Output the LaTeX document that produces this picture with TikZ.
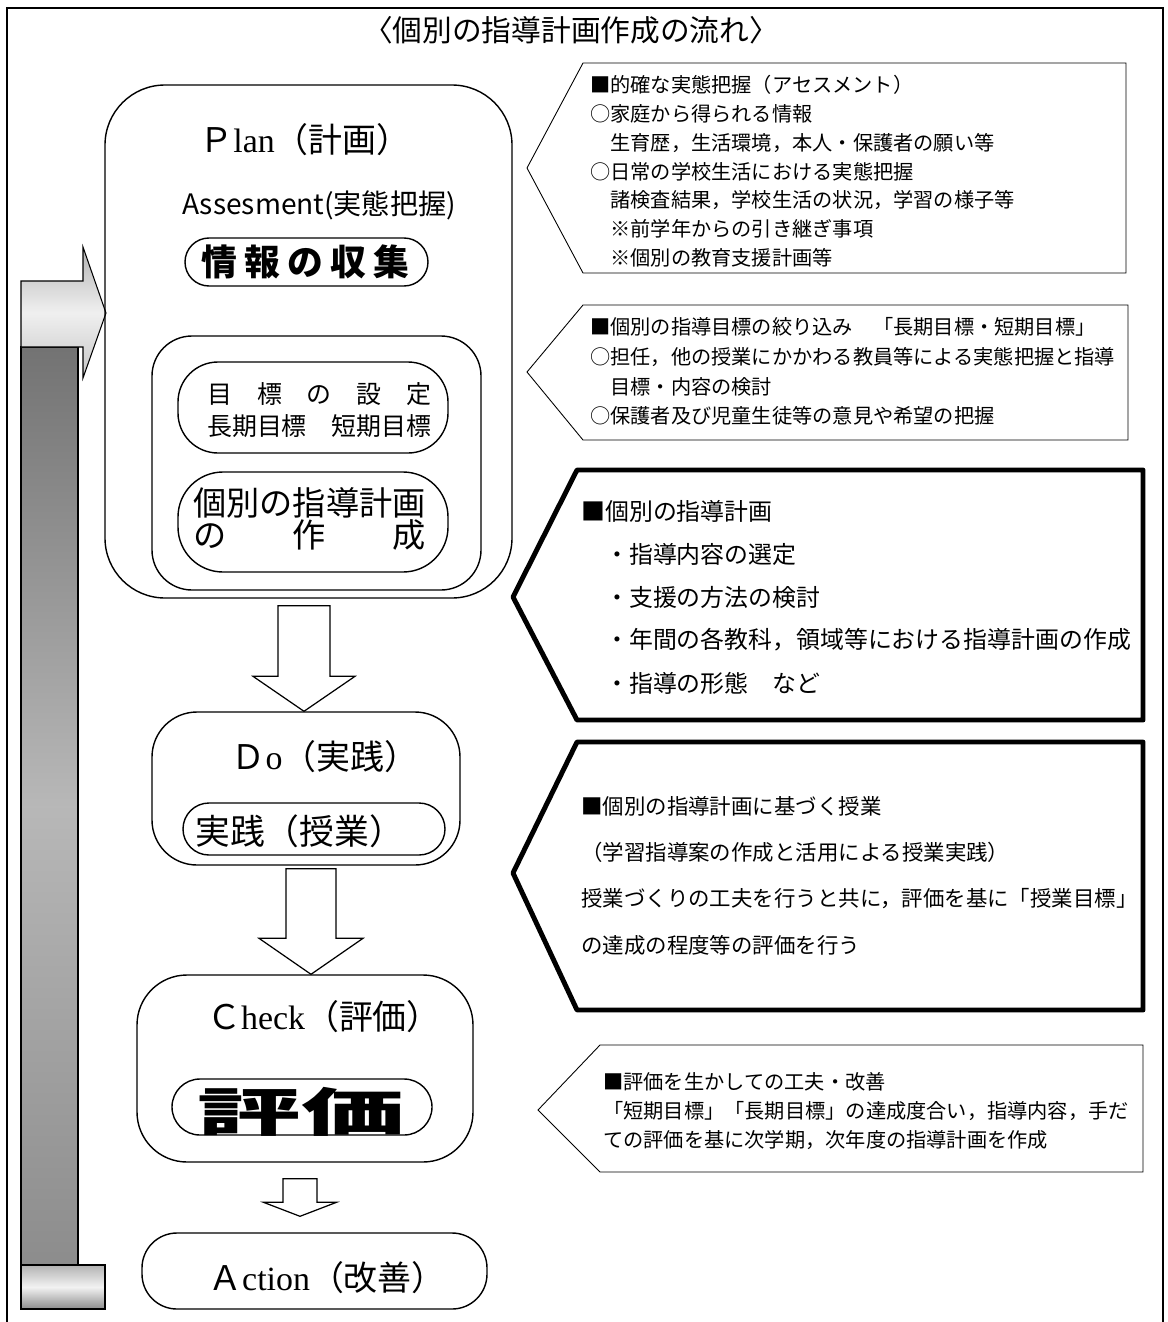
\documentclass[tikz,border=0pt]{standalone}
\usepackage{fontspec}
\usepackage{graphicx}
\setmainfont{Noto Sans CJK JP}
\newfontfamily\romanlat{Liberation Serif}
\usetikzlibrary{calc, fit}

% block arrow pointing down: start, tip, half shaft, half head, head length
\newcommand{\fatdown}[5]{%
  \draw[fatarrow] ($(#1)+(-#3,0)$) -- ($(#2)+(-#3,-#5)$) -- ($(#2)+(-#4,-#5)$) -- (#2)
    -- ($(#2)+(#4,-#5)$) -- ($(#2)+(#3,-#5)$) -- ($(#1)+(#3,0)$) -- cycle;}

\begin{document}
\begin{tikzpicture}[
        x=0.02cm, y=-0.02cm,
        stage/.style={draw, line width=0.8pt, rounded corners=#1, inner sep=0pt},
        pill/.style={draw, line width=0.8pt, rounded corners=#1, inner sep=0pt},
        stagetext/.style={inner sep=0pt, font=\fontsize{19.3}{23}\selectfont},
        goaltext/.style={inner sep=0pt, font=\fontsize{14.2}{17}\selectfont},
        maketext/.style={inner sep=0pt, font=\fontsize{18.9}{22}\selectfont},
        thincall/.style={draw, line width=0.5pt},
        thickcall/.style={draw, line width=2.8pt, line join=round},
        calltxt/.style={anchor=west, inner sep=0pt},
        fatarrow/.style={draw, line width=0.7pt, fill=white},
        barshade/.style={draw, line width=0.6pt, top color=black!55, bottom color=black!45, middle color=black!28},
        headshade/.style={draw, line width=0.6pt, top color=black!30, bottom color=black!22, middle color=black!6},
        footshade/.style={draw, line width=0.6pt, top color=black!30, bottom color=black!45, middle color=black!5}
    ]
    \useasboundingbox (0,0) rectangle (1167,1322);

    % Frame and title
    \draw[line width=0.8pt] (7,1322) -- (7,8) -- (1163,8) -- (1163,1322);
    \node[inner sep=0pt, font=\fontsize{16.9}{20}\selectfont] (title) at (571,30) {〈個別の指導計画作成の流れ〉};

    % Return arrow
    \draw[barshade] (21,347) rectangle (78,1265);
    \draw[footshade] (21,1265) rectangle (105,1309);
    \draw[headshade] (21,281) -- (83,281) -- (83,247) -- (106,313) -- (83,378) -- (83,347) -- (21,347) -- cycle;

    % Plan
    \node[stage=1.2cm, fit={(105,85) (512,598)}] (plan) {};
    \node[stagetext] (plantxt) at (305,140) {Ｐ{\romanlat lan}（計画）};
    \node[inner sep=0pt, font=\fontsize{16}{19}\selectfont] (assess) at (319,205) {Assesment(実態把握)};
    \node[pill=0.48cm, fit={(185,238) (428,286)}] (info) {};
    \node[inner sep=0pt, font=\bfseries\fontsize{20.4}{24}\selectfont] (infotxt) at (305,262) {情\hspace{0.2em}報\hspace{0.2em}の\hspace{0.2em}収\hspace{0.2em}集};
    \node[stage=0.8cm, fit={(152,336) (481,590)}] (inner) {};
    \node[pill=0.8cm, fit={(178,362) (448,453)}] (goal) {};
    \node[goaltext, anchor=east] (goal1) at (432,394) {目　標　の　設　定};
    \node[goaltext, anchor=east] (goal2) at (432,426) {長期目標　短期目標};
    \node[pill=0.9cm, fit={(178,472) (448,572)}] (make) {};
    \node[maketext, anchor=west] (make1) at (193,503) {個別の指導計画};
    \node[maketext, anchor=west] (make2) at (193,535) {の　　作　　成};

    % Do
    \node[stage=0.9cm, fit={(152,712) (460,865)}] (do) {};
    \node[stagetext] (dotxt) at (325,757) {Ｄ{\romanlat o}（実践）};
    \node[pill=0.52cm, fit={(183,803) (445,855)}] (lesson) {};
    \node[inner sep=0pt, anchor=west, font=\fontsize{19.8}{24}\selectfont] (lessontxt) at (195,831) {実践（授業）};

    % Check
    \node[stage=1cm, fit={(137,975) (473,1162)}] (check) {};
    \node[stagetext] (checktxt) at (324,1017) {Ｃ{\romanlat heck}（評価）};
    \node[pill=0.56cm, fit={(172,1079) (432,1135)}] (eval) {};
    \node[inner sep=0pt, font=\bfseries\fontsize{29.5}{32}\selectfont] (evaltxt) at (301,1112) {\scalebox{2}[1]{評価}};

    % Action
    \node[stage=0.7cm, fit={(142,1233) (487,1309)}] (action) {};
    \node[stagetext] (actiontxt) at (327,1278) {Ａ{\romanlat ction}（改善）};

    % Arrows between stages
    \coordinate (a1s) at ($(plan.south)+(-4.5,7)$);
    \coordinate (a1e) at (a1s |- do.north);
    \fatdown{a1s}{a1e}{26}{51}{35}
    \coordinate (a2s) at ($(do.south)+(5,3)$);
    \coordinate (a2e) at (a2s |- check.north);
    \fatdown{a2s}{a2e}{25}{52}{36}
    \coordinate (a3s) at ($(check.south)+(-5,16)$);
    \coordinate (a3e) at ($(a3s |- action.north)+(0,-16)$);
    \fatdown{a3s}{a3e}{17}{36.5}{14}

    % Notes
    \draw[thincall] (583,63) -- (1126,63) -- (1126,273) -- (583,273) -- (527,168) -- cycle;
    \foreach \ln [count=\i from 0] in {{■的確な実態把握（アセスメント）}, {○家庭から得られる情報}, {　生育歴，生活環境，本人・保護者の願い等}, {○日常の学校生活における実態把握}, {　諸検査結果，学校生活の状況，学習の様子等}, {　※前学年からの引き継ぎ事項}, {　※個別の教育支援計画等}}
        \node[calltxt, font=\fontsize{11.5}{14}\selectfont] (assessnote\i) at (590,85+28.8*\i) {\ln};

    \draw[thincall] (583,305) -- (1128,305) -- (1128,440) -- (583,440) -- (527,372) -- cycle;
    \foreach \ln [count=\i from 0] in {{■個別の指導目標の絞り込み　「長期目標・短期目標」}, {○担任，他の授業にかかわる教員等による実態把握と指導}, {　目標・内容の検討}, {○保護者及び児童生徒等の意見や希望の把握}}
        \node[calltxt, font=\fontsize{11.5}{14}\selectfont] (goalnote\i) at (590,327+29.7*\i) {\ln};

    \draw[thickcall] (577,470) -- (1143,470) -- (1143,720) -- (577,720) -- (513,597) -- cycle;
    \foreach \ln [count=\i from 0] in {{■個別の指導計画}, {　・指導内容の選定}, {　・支援の方法の検討}, {　・年間の各教科，領域等における指導計画の作成}, {　・指導の形態　など}}
        \node[calltxt, font=\fontsize{13.6}{16}\selectfont] (plannote\i) at (581,511+43*\i) {\ln};

    \draw[thickcall] (577,742) -- (1143,742) -- (1143,1010) -- (577,1010) -- (513,873) -- cycle;
    \foreach \ln [count=\i from 0] in {{■個別の指導計画に基づく授業}, {（学習指導案の作成と活用による授業実践）}, {授業づくりの工夫を行うと共に，評価を基に「授業目標」}, {の達成の程度等の評価を行う}}
        \node[calltxt, font=\fontsize{12.2}{15}\selectfont] (donote\i) at (581,806+46.5*\i) {\ln};

    \draw[thincall] (600,1045) -- (1143,1045) -- (1143,1172) -- (600,1172) -- (538,1110) -- cycle;
    \foreach \ln [count=\i from 0] in {{■評価を生かしての工夫・改善}, {「短期目標」「長期目標」の達成度合い，指導内容，手だ}, {ての評価を基に次学期，次年度の指導計画を作成}}
        \node[calltxt, font=\fontsize{11.5}{14}\selectfont] (checknote\i) at (603,1082+29*\i) {\ln};

\end{tikzpicture}
\end{document}
